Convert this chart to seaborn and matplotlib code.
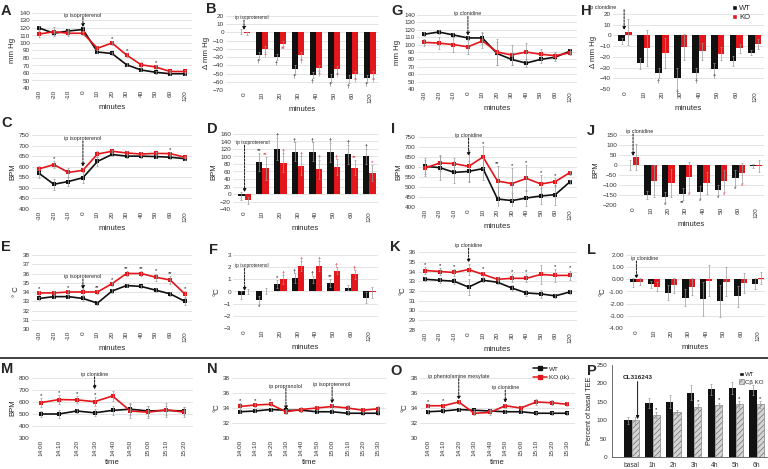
import numpy as np
import pandas as pd
import matplotlib
matplotlib.use('Agg')
import matplotlib.pyplot as plt
import seaborn as sns
from matplotlib.patches import Patch
from matplotlib.lines import Line2D

# ---------------- data ----------------
min_labels = ['-30', '-20', '-10', '0', '10', '20', '30', '40', '50', '60', '120']
delta_labels = ['0', '10', '20', '30', '40', '50', '60', '120']
times_M = ['14:00', '14:10', '14:20', '14:30', '14:40', '14:50', '15:00', '15:10', '15:20']
times_NO = ['14:00', '14:10', '14:20', '14:30', '14:40', '14:50', '15:00', '15:10', '15:20', '15:30']
P_labels = ['basal', '1h', '2h', '3h', '4h', '5h', '6h']

A_wt = [120, 113, 116, 118, 88, 86, 71, 64, 61, 59, 59]
A_wt_err = [3, 3, 3, 3, 2, 2, 2, 2, 2, 2, 2]
A_ko = [112, 115, 113, 113, 93, 100, 84, 71, 68, 62, 62]
A_ko_err = [4, 6, 4, 3, 3, 3, 3, 3, 3, 2, 2]
A_sig = ['', '', '', '', '', '*', '*', '', '*', '', '']

B_wt = [1, -28, -30, -45, -52, -55, -57, -56]
B_wt_err = [3, 4, 4, 5, 4, 5, 5, 4]
B_ko = [-1, -20, -14, -28, -43, -45, -51, -51]
B_ko_err = [2, 4, 3, 4, 4, 4, 4, 4]
B_sig_wt = ['', '†', '†', '†', '†', '†', '†', '†']
B_sig_ko = ['', '†', '**', '†', '†', '†', '†', '†']

C_wt = [568, 517, 530, 548, 625, 658, 650, 650, 648, 645, 638]
C_wt_err = [20, 25, 22, 25, 20, 8, 8, 8, 8, 8, 6]
C_ko = [590, 610, 573, 583, 660, 673, 665, 660, 663, 662, 645]
C_ko_err = [15, 15, 20, 10, 15, 8, 8, 8, 8, 8, 6]
C_sig = ['', '*', '', '', '', '', '', '', '', '*', '']

D_wt = [-5, 85, 120, 113, 113, 111, 106, 100]
D_wt_err = [10, 25, 30, 25, 25, 25, 25, 20]
D_ko = [-17, 68, 83, 75, 66, 72, 70, 56]
D_ko_err = [10, 30, 25, 25, 25, 20, 20, 20]
D_sig_wt = ['', '**', '†', '†', '†', '†', '†', '†']
D_sig_ko = ['', '**', '†', '†', '†', '†', '**', '*']

E_wt = [33.3, 33.5, 33.5, 33.3, 32.8, 34.1, 34.7, 34.6, 34.2, 33.8, 33.0]
E_wt_err = [0.2, 0.2, 0.2, 0.3, 0.2, 0.2, 0.2, 0.2, 0.2, 0.2, 0.4]
E_ko = [33.9, 33.9, 34.0, 34.0, 34.0, 34.9, 36.0, 36.0, 35.6, 35.3, 33.8]
E_ko_err = [0.2, 0.2, 0.2, 0.3, 0.2, 0.2, 0.3, 0.3, 0.4, 0.4, 0.3]
E_sig = ['*', '', '*', '†', '**', '*', '**', '**', '*', '**', '*']

F_wt = [-0.3, -0.7, 0.6, 1.1, 1.0, 0.7, 0.3, -0.5]
F_wt_err = [0.3, 0.35, 0.35, 0.4, 0.3, 0.3, 0.2, 0.45]
F_ko = [0.0, 0.05, 1.0, 2.1, 2.1, 1.7, 1.4, -0.05]
F_ko_err = [0.2, 0.25, 0.35, 0.4, 0.4, 0.3, 0.35, 0.45]
F_sig_wt = ['', '*', '*', '†', '†', '**', '', '']
F_sig_ko = ['', '', '†', '†', '†', '†', '†', '']

G_wt = [114, 117, 113, 109, 109, 88, 80, 75, 80, 83, 91]
G_wt_err = [3, 3, 3, 3, 8, 15, 8, 5, 5, 5, 3]
G_ko = [103, 102, 100, 97, 105, 90, 86, 90, 87, 85, 89]
G_ko_err = [5, 8, 10, 10, 10, 18, 14, 12, 7, 5, 3]

H_wt = [-5, -26, -35, -40, -35, -31, -24, -16]
H_wt_err = [3, 5, 5, 10, 5, 5, 5, 2]
H_ko = [3, -12, -16, -11, -15, -17, -12, -8]
H_ko_err = [12, 17, 14, 12, 8, 6, 4, 5]
H_sig_wt = ['', '', '†', '†', '†', '†', '', '']

I_wt = [603, 597, 573, 578, 592, 440, 432, 445, 455, 462, 525]
I_wt_err = [40, 60, 55, 50, 55, 60, 40, 40, 40, 50, 10]
I_ko = [595, 620, 617, 603, 650, 530, 517, 543, 515, 527, 572]
I_ko_err = [40, 40, 30, 80, 55, 75, 80, 65, 45, 20, 10]
I_sig = ['', '', '', '', '*', '**', '*', '*', '*', '*', '']

J_wt = [0, -150, -160, -145, -135, -127, -65, -5]
J_wt_err = [25, 20, 25, 30, 30, 25, 40, 10]
J_ko = [38, -78, -90, -62, -92, -82, -38, -7]
J_ko_err = [65, 80, 70, 75, 55, 55, 50, 30]
J_sig_wt = ['', '', '*', '**', '*', '*', '*', '']
J_sig_ko = ['', '', '', '*', '', '*', '*', '']

K_wt = [33.2, 33.1, 33.0, 32.4, 33.1, 32.9, 32.3, 31.8, 31.7, 31.5, 31.9]
K_wt_err = [0.2, 0.25, 0.3, 0.8, 0.2, 0.2, 0.3, 0.3, 0.4, 0.2, 0.2]
K_ko = [34.1, 34.0, 33.9, 34.2, 33.7, 33.2, 33.3, 33.3, 33.7, 33.6, 33.6]
K_ko_err = [0.4, 0.4, 0.4, 0.6, 0.3, 0.2, 0.4, 0.4, 1.0, 0.7, 0.5]
K_sig = ['*', '*', '*', '', '*', '', '*', '*', '', '*', '*']

L_wt = [-0.25, -0.4, -1.1, -1.5, -1.65, -1.8, -1.4, -0.35]
L_wt_err = [0.4, 0.3, 0.6, 0.7, 1.4, 1.3, 0.85, 0.45]
L_ko = [-0.2, -0.6, -0.5, -0.6, -0.1, -0.2, -0.3, 0.1]
L_ko_err = [0.3, 0.4, 0.6, 0.7, 1.3, 1.2, 0.8, 0.5]

M_wt = [500, 500, 525, 510, 530, 540, 525, 530, 525]
M_wt_err = [25, 30, 20, 30, 40, 50, 40, 40, 30]
M_ko = [595, 620, 618, 603, 650, 525, 515, 535, 515]
M_ko_err = [35, 35, 30, 40, 45, 60, 50, 60, 40]
M_sig = ['*', '*', '*', '*', '', '', '', '', '']

N_wt = [33.5, 33.6, 33.8, 33.7, 33.7, 33.5, 33.5, 33.3, 33.3, 33.3]
N_wt_err = [0.2, 0.2, 0.2, 0.2, 0.2, 0.2, 0.2, 0.2, 0.2, 0.2]
N_ko = [34.2, 34.4, 34.5, 33.5, 33.8, 34.0, 34.2, 34.0, 33.7, 33.9]
N_ko_err = [0.4, 0.3, 0.2, 0.3, 0.3, 0.3, 0.3, 0.4, 0.3, 0.3]
N_sig = ['*', '*', '*', '', '', '', '', '', '', '']

O_wt = [33.5, 33.6, 33.8, 33.7, 33.6, 33.5, 33.5, 33.3, 33.3, 33.3]
O_wt_err = [0.3, 0.3, 0.2, 0.2, 0.2, 0.2, 0.2, 0.2, 0.2, 0.2]
O_ko = [34.3, 34.3, 34.8, 33.3, 33.4, 34.3, 34.0, 34.8, 34.7, 34.5]
O_ko_err = [0.2, 0.3, 0.3, 0.3, 0.3, 0.3, 0.3, 0.4, 0.3, 0.3]
O_sig = ['*', '*', '*', '', '', '', '', '', '', '']

P_wt = [100, 147, 150, 175, 184, 187, 182]
P_wt_err = [10, 13, 18, 20, 15, 17, 13]
P_ko = [100, 113, 122, 135, 140, 143, 143]
P_ko_err = [10, 8, 7, 8, 8, 10, 10]
P_sig = ['', '*', '', '*', '*', '*', '*']

# ---------------- style ----------------
W, H = 768, 469
sns.set_style('white')
plt.rcParams['font.family'] = ['Liberation Sans', 'DejaVu Sans']
plt.rcParams['hatch.linewidth'] = 0.5
BLACK = '#111111'
RED = '#e3161b'
TICK = 4.6
LAB = 5.6
ECOL = '#999999'

fig = plt.figure(figsize=(W / 100, H / 100), dpi=100)


def axpx(x0, y0, x1, y1):
    return fig.add_axes([x0 / W, 1 - y1 / H, (x1 - x0) / W, (y1 - y0) / H])


def style(ax, ylim, step, fmt=None, grid=True):
    ticks = np.arange(ylim[0], ylim[1] + step * 0.5, step)
    ax.set_ylim(*ylim)
    ax.set_yticks(ticks)
    if fmt:
        ax.set_yticklabels([fmt.format(t) for t in ticks])
    for s in ax.spines.values():
        s.set_visible(False)
    ax.tick_params(length=0, labelsize=TICK, colors='#333333', pad=1.5)
    if grid:
        ax.yaxis.grid(True, color='#d9d9d9', lw=0.5)
    ax.set_axisbelow(True)


def errs(ax, x, v, e):
    ax.errorbar(x, v, yerr=e, fmt='none', ecolor=ECOL, elinewidth=0.5,
                capsize=1.0, capthick=0.5, zorder=4)


def line_panel(ax, labels, wt, wte, ko, koe):
    pos = np.arange(len(labels))
    for vals, e, col in [(wt, wte, BLACK), (ko, koe, RED)]:
        errs(ax, pos, vals, e)
        sns.lineplot(x=pos, y=vals, color=col, marker='s', markersize=2.4,
                     markeredgewidth=0, linewidth=1.2, ax=ax, zorder=3)
    ax.set_xticks(pos)
    ax.set_xticklabels(labels, rotation=90)
    ax.set_xlim(-0.5, len(labels) - 0.5)
    return pos


def bar_panel(ax, labels, wt, wte, ko, koe, colors=(BLACK, RED), width=0.72):
    n = len(labels)
    df = pd.DataFrame({'t': list(labels) * 2, 'v': list(wt) + list(ko),
                       'g': ['WT'] * n + ['KO'] * n})
    sns.barplot(data=df, x='t', y='v', hue='g', order=labels, hue_order=['WT', 'KO'],
                palette=list(colors), errorbar=None, width=width, legend=False,
                saturation=1, linewidth=0, ax=ax)
    off = width / 4
    pos = np.arange(n)
    errs(ax, pos - off, wt, wte)
    errs(ax, pos + off, ko, koe)
    ax.set_xlabel('')
    ax.set_ylabel('')
    return pos - off, pos + off


def sig(ax, xs, vals, es, marks, color=BLACK, where='up', pad=0.0):
    for x, v, e, m in zip(xs, vals, es, marks):
        if not m:
            continue
        if where == 'up':
            ax.text(x, v + e + pad, m, ha='center', va='bottom', fontsize=4.2, color=color, zorder=6)
        else:
            ax.text(x, v - e - pad, m, ha='center', va='top', fontsize=4.2, color=color, zorder=6)


def arrow(ax, x, ytext, ytip, text, solid=False, fs=3.9, weight='normal', tx=None):
    ax.annotate('', xy=(x, ytip), xytext=(x, ytext),
                arrowprops=dict(arrowstyle='-|>', linestyle='-' if solid else (0, (2.2, 1.3)),
                                lw=0.7, color='#111111', mutation_scale=4.5,
                                shrinkA=0, shrinkB=0),
                annotation_clip=False, zorder=7)
    ax.text(x if tx is None else tx, ytext, text, ha='center', va='bottom', fontsize=fs,
            weight=weight, clip_on=False, zorder=7)


def letter(x, y, s):
    fig.text(x / W, 1 - y / H, s, fontsize=10.5, weight='bold', va='top', ha='left')


def labels_xy(ax, ylabel, xlabel='minutes'):
    ax.set_ylabel(ylabel, fontsize=LAB, labelpad=2)
    ax.set_xlabel(xlabel, fontsize=LAB, labelpad=2)


# ---------------- row 1 ----------------
ax = axpx(32, 13, 192, 88)
pos = line_panel(ax, min_labels, A_wt, A_wt_err, A_ko, A_ko_err)
style(ax, (40, 140), 10)
sig(ax, pos, A_ko, A_ko_err, A_sig)
arrow(ax, 3, 134, 121, 'ip isoproterenol')
labels_xy(ax, 'mm Hg')
letter(1, 4, 'A')

ax = axpx(226, 16, 379, 90)
xw, xk = bar_panel(ax, delta_labels, B_wt, B_wt_err, B_ko, B_ko_err)
style(ax, (-70, 20), 10)
ax.set_xlim(-1.0, 7.5)
ax.set_xticks(range(8)); ax.set_xticklabels(delta_labels, rotation=90)
sig(ax, xw, B_wt, B_wt_err, B_sig_wt, where='down')
sig(ax, xk, B_ko, B_ko_err, B_sig_ko, color=RED, where='down')
arrow(ax, 0.0, 15, 3, 'ip isoproterenol', fs=3.4, tx=0.45)
labels_xy(ax, 'Δ mm Hg')
letter(206, 2, 'B')

ax = axpx(417, 15, 577, 89)
pos = line_panel(ax, min_labels, G_wt, G_wt_err, G_ko, G_ko_err)
style(ax, (40, 140), 10)
arrow(ax, 3, 138, 112, 'ip clonidine')
labels_xy(ax, 'mm Hg')
letter(391, 4, 'G')

ax = axpx(613, 14, 764, 89)
xw, xk = bar_panel(ax, delta_labels, H_wt, H_wt_err, H_ko, H_ko_err)
style(ax, (-50, 20), 10)
ax.set_xlim(-0.65, 7.5)
ax.set_xticks(range(8)); ax.set_xticklabels(delta_labels, rotation=90)
sig(ax, xw, H_wt, H_wt_err, H_sig_wt, where='down')
arrow(ax, -0.05, 24, 5, 'ip clonidine', tx=-1.2)
labels_xy(ax, 'Δ mm Hg')
ax.legend(handles=[Patch(facecolor=BLACK, label='WT'), Patch(facecolor=RED, label='KO')],
          loc='upper left', bbox_to_anchor=(728 / W, 1 - 1 / H), bbox_transform=fig.transFigure,
          fontsize=5.5, frameon=False, handlelength=0.7, handleheight=0.7,
          handletextpad=0.3, labelspacing=0.25, borderpad=0)
letter(581, 4, 'H')

# ---------------- row 2 ----------------
ax = axpx(32, 135, 192, 209)
pos = line_panel(ax, min_labels, C_wt, C_wt_err, C_ko, C_ko_err)
style(ax, (400, 750), 50)
sig(ax, pos, C_ko, C_ko_err, C_sig)
arrow(ax, 3, 722, 600, 'ip isoproterenol')
labels_xy(ax, 'BPM')
letter(1, 116, 'C')

ax = axpx(233, 134, 378, 209)
xw, xk = bar_panel(ax, delta_labels, D_wt, D_wt_err, D_ko, D_ko_err)
style(ax, (-40, 160), 20)
ax.set_xlim(-0.65, 7.5)
ax.set_xticks(range(8)); ax.set_xticklabels(delta_labels, rotation=90)
sig(ax, xw, D_wt, D_wt_err, D_sig_wt)
sig(ax, xk, D_ko, D_ko_err, D_sig_ko, color=RED)
arrow(ax, 0, 130, 5, 'ip isoproterenol', fs=3.4, tx=0.45)
labels_xy(ax, 'BPM')
letter(207, 122, 'D')

ax = axpx(418, 137, 577, 207)
pos = line_panel(ax, min_labels, I_wt, I_wt_err, I_ko, I_ko_err)
style(ax, (400, 750), 50)
sig(ax, pos, I_ko, I_ko_err, I_sig)
arrow(ax, 3, 745, 655, 'ip clonidine')
labels_xy(ax, 'BPM')
letter(391, 122, 'I')

ax = axpx(619, 135, 764, 205)
xw, xk = bar_panel(ax, delta_labels, J_wt, J_wt_err, J_ko, J_ko_err)
style(ax, (-200, 150), 50)
ax.set_xlim(-0.8, 7.45)
ax.set_xticks(range(8)); ax.set_xticklabels(delta_labels, rotation=90)
sig(ax, xw, J_wt, J_wt_err, J_sig_wt, where='down')
sig(ax, xk, J_ko, J_ko_err, J_sig_ko, color=RED, where='down')
arrow(ax, 0.0, 155, 45, 'ip clonidine', tx=0.4)
labels_xy(ax, 'BPM')
letter(587, 124, 'J')

# ---------------- row 3 ----------------
ax = axpx(32, 255, 192, 329)
pos = line_panel(ax, min_labels, E_wt, E_wt_err, E_ko, E_ko_err)
style(ax, (30, 38), 1)
sig(ax, pos, E_ko, E_ko_err, E_sig)
arrow(ax, 3, 35.4, 34.3, 'ip isoproterenol')
labels_xy(ax, '° C')
letter(1, 240, 'E')

ax = axpx(233, 255, 378, 328)
xw, xk = bar_panel(ax, delta_labels, F_wt, F_wt_err, F_ko, F_ko_err)
style(ax, (-3, 3), 1)
ax.set_xlim(-0.65, 7.5)
ax.set_xticks(range(8)); ax.set_xticklabels(delta_labels, rotation=90)
sig(ax, xw[2:], F_wt[2:], F_wt_err[2:], F_sig_wt[2:])
sig(ax, xw[:2], F_wt[:2], F_wt_err[:2], F_sig_wt[:2], where='down')
sig(ax, xk, F_ko, F_ko_err, F_sig_ko, color=RED)
arrow(ax, 0.0, 1.9, 0.05, 'ip isoproterenol', fs=3.4, tx=0.4)
labels_xy(ax, '°C')
letter(209, 243, 'F')

ax = axpx(418, 252, 577, 330)
pos = line_panel(ax, min_labels, K_wt, K_wt_err, K_ko, K_ko_err)
style(ax, (28, 36), 1)
sig(ax, pos, K_ko, K_ko_err, K_sig)
arrow(ax, 3, 36.4, 34.9, 'ip clonidine')
labels_xy(ax, '°C')
letter(390, 240, 'K')

ax = axpx(626, 255, 765, 328)
xw, xk = bar_panel(ax, delta_labels, L_wt, L_wt_err, L_ko, L_ko_err)
style(ax, (-4, 2), 1, fmt='{:.2f}')
ax.set_xlim(-0.6, 7.4)
ax.set_xticks(range(8)); ax.set_xticklabels(delta_labels, rotation=90)
arrow(ax, 0.0, 1.5, 0.05, 'ip clonidine', tx=0.45)
labels_xy(ax, '°C')
letter(587, 243, 'L')

# separator line
fig.add_artist(Line2D([0, 1], [1 - 358 / H] * 2, color='#333333', lw=1.3,
                      transform=fig.transFigure))

# ---------------- row 4 ----------------
ax = axpx(32, 378, 193, 438)
pos = line_panel(ax, times_M, M_wt, M_wt_err, M_ko, M_ko_err)
style(ax, (300, 800), 100)
sig(ax, pos, M_ko, M_ko_err, M_sig)
arrow(ax, 3, 810, 705, 'ip clonidine')
labels_xy(ax, 'BPM', 'time')
letter(1, 362, 'M')

ax = axpx(232, 378, 386, 438)
pos = line_panel(ax, times_NO, N_wt, N_wt_err, N_ko, N_ko_err)
style(ax, (30, 38), 2)
sig(ax, pos, N_ko, N_ko_err, N_sig)
arrow(ax, 3, 36.6, 33.8, 'ip propranolol')
arrow(ax, 6, 36.8, 34.6, 'ip isoproterenol')
labels_xy(ax, '°C', 'time')
letter(207, 362, 'N')

ax = axpx(420, 378, 575, 438)
pos = line_panel(ax, times_NO, O_wt, O_wt_err, O_ko, O_ko_err)
style(ax, (30, 38), 2)
sig(ax, pos, O_ko, O_ko_err, O_sig)
arrow(ax, 2, 37.9, 35.1, 'ip phentolamine mesylate')
arrow(ax, 5, 36.4, 34.7, 'ip clonidine')
labels_xy(ax, '°C', 'time')
ax.legend(handles=[Line2D([], [], color=BLACK, marker='s', ms=2.4, lw=1.1, label='WT'),
                   Line2D([], [], color=RED, marker='s', ms=2.4, lw=1.1, label='KO (tk)')],
          loc='upper left', bbox_to_anchor=(530 / W, 1 - 363 / H), bbox_transform=fig.transFigure,
          fontsize=4.6, frameon=False, handlelength=2.2, handletextpad=0.3,
          labelspacing=0.5, borderpad=0)
letter(390, 364, 'O')

ax = axpx(612, 365, 767, 457)
xw, xk = bar_panel(ax, P_labels, P_wt, P_wt_err, P_ko, P_ko_err,
                   colors=(BLACK, '#d4d4d4'), width=0.7)
for p in ax.containers[1]:
    p.set_hatch('//////')
    p.set_edgecolor('#6f6f6f')
    p.set_linewidth(0.4)
style(ax, (0, 250), 50, grid=False)
ax.set_xlim(-0.95, 6.5)
ax.spines['left'].set_visible(True)
ax.spines['bottom'].set_visible(True)
ax.spines['left'].set_color('#555555')
ax.spines['bottom'].set_color('#555555')
ax.spines['left'].set_linewidth(0.6)
ax.spines['bottom'].set_linewidth(0.6)
ax.tick_params(axis='y', length=2, width=0.5, color='#555555')
ax.tick_params(axis='x', length=2, width=0.5, color='#555555', labelsize=4.8)
ax.set_ylabel('Percent of basal TEE', fontsize=5.2, labelpad=2)
sig(ax, xk, P_ko, P_ko_err, P_sig)
arrow(ax, 0.28, 205, 103, '', solid=True)
ax.text(0.3, 208, 'CL316243', ha='center', va='bottom', fontsize=4.6, weight='bold')
ax.legend(handles=[Patch(facecolor=BLACK, label='WT'),
                   Patch(facecolor='#d4d4d4', hatch='//////', edgecolor='#6f6f6f', lw=0.4, label='Cβ KO')],
          loc='upper right', bbox_to_anchor=(1.0, 0.96), fontsize=4.4, frameon=False,
          handlelength=0.7, handleheight=0.7, handletextpad=0.3, labelspacing=0.4, borderpad=0)
letter(587, 364, 'P')

fig.savefig('out.png', dpi=100)
